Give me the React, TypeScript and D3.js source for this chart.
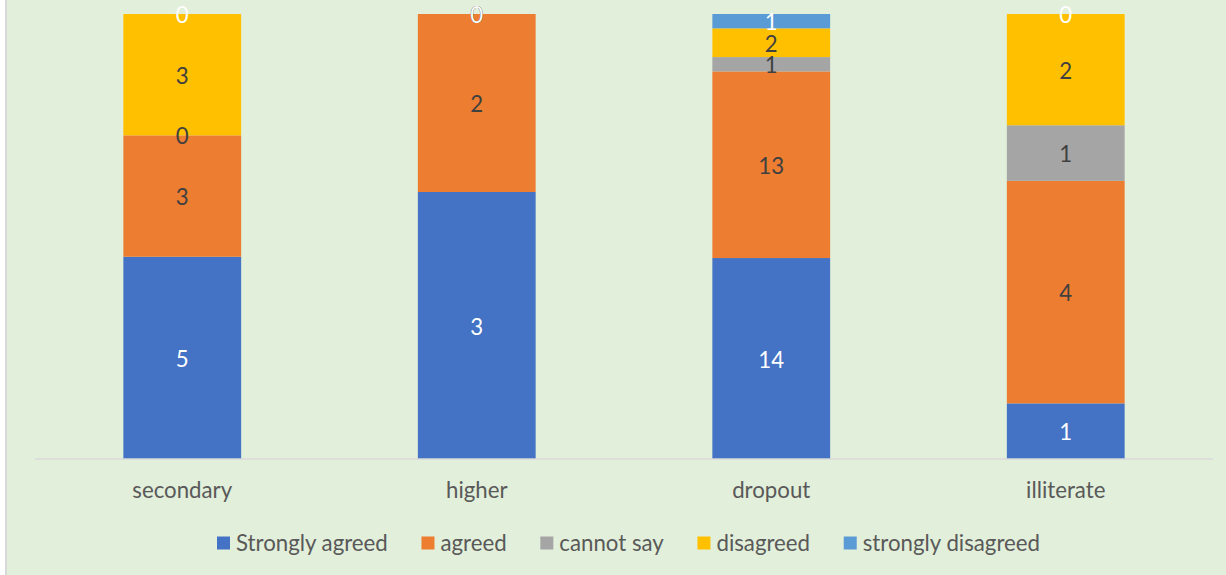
import React, { useEffect, useRef } from "react";
import * as d3 from "d3";

const categories = ["secondary", "higher", "dropout", "illiterate"];
const seriesNames = ["Strongly agreed", "agreed", "cannot say", "disagreed", "strongly disagreed"];
const stronglyAgreed = [5, 3, 14, 1];
const agreed = [3, 2, 13, 4];
const cannotSay = [0, 0, 1, 1];
const disagreed = [3, 0, 2, 2];
const stronglyDisagreed = [0, 0, 1, 0];
const seriesColors = ["#4472C4", "#ED7D31", "#A5A5A5", "#FFC000", "#5B9BD5"];
const labelColors = ["#FFFFFF", "#404040", "#404040", "#404040", "#FFFFFF"];

const W = 1226;
const H = 575;
const FONT = "Lato, 'Open Sans', sans-serif";

export default function App() {
  const ref = useRef<SVGSVGElement>(null);
  useEffect(() => {
    const svg = d3.select(ref.current);
    svg.selectAll("*").remove();
    const values = [stronglyAgreed, agreed, cannotSay, disagreed, stronglyDisagreed];
    const rows = categories.map((c, i) => {
      const o: any = { cat: c };
      seriesNames.forEach((s, k) => (o[s] = values[k][i]));
      return o;
    });
    const stack = d3.stack<any>().keys(seriesNames).offset(d3.stackOffsetExpand);
    const layers = stack(rows);

    // measure font size to match reference text widths
    const probe = svg.append("text").attr("font-family", FONT).attr("font-size", 100).text("strongly disagreed");
    const wProbe = (probe.node() as SVGTextElement).getComputedTextLength();
    probe.text("secondary");
    const wProbe2 = (probe.node() as SVGTextElement).getComputedTextLength();
    probe.remove();
    const fs = ((100 * 179) / wProbe + (100 * 99) / wProbe2) / 2;

    svg.append("rect").attr("x", 0).attr("y", 0).attr("width", W).attr("height", H).attr("fill", "#FFFFFF");
    svg.append("rect").attr("x", 6).attr("y", 0).attr("width", W - 6).attr("height", H).attr("fill", "#E2EFDA");
    svg.append("line").attr("x1", 6).attr("x2", 6).attr("y1", 0).attr("y2", H).attr("stroke", "#D9D9D9").attr("stroke-width", 2);

    const x = d3.scaleBand().domain(categories).range([35, 1213]).paddingInner(0.6).paddingOuter(0.3);
    const y = d3.scaleLinear().domain([0, 1]).range([459, 14]);

    const g = svg.append("g");
    layers.forEach((layer, k) => {
      g.selectAll(null)
        .data(layer)
        .enter()
        .append("rect")
        .attr("x", (d: any) => x(d.data.cat)!)
        .attr("width", x.bandwidth())
        .attr("y", (d) => y(d[1]))
        .attr("height", (d) => y(d[0]) - y(d[1]))
        .attr("fill", seriesColors[k]);
    });

    svg.append("line").attr("x1", 35).attr("x2", 1213).attr("y1", 459).attr("y2", 459).attr("stroke", "#D9D9D9").attr("stroke-width", 1.5);

    layers.forEach((layer, k) => {
      g.selectAll(null)
        .data(layer)
        .enter()
        .append("text")
        .attr("x", (d: any) => x(d.data.cat)! + x.bandwidth() / 2)
        .attr("y", (d) => (y(d[0]) + y(d[1])) / 2 + 1)
        .attr("dy", "0.36em")
        .attr("text-anchor", "middle")
        .attr("font-family", FONT)
        .attr("font-size", fs)
        .attr("fill", labelColors[k])
        .text((d: any) => d.data[seriesNames[k]]);
    });

    svg.selectAll(null)
      .data(categories)
      .enter()
      .append("text")
      .attr("x", (c) => x(c)! + x.bandwidth() / 2)
      .attr("y", 490)
      .attr("dy", "0.36em")
      .attr("text-anchor", "middle")
      .attr("font-family", FONT)
      .attr("font-size", fs)
      .attr("fill", "#595959")
      .text((c) => c);

    // legend
    const leg = svg.append("g");
    const sq = 13;
    const gapT = 6;
    const items: { g: any; w: number }[] = [];
    seriesNames.forEach((s, k) => {
      const it = leg.append("g");
      it.append("rect").attr("x", 0).attr("y", -sq / 2).attr("width", sq).attr("height", sq).attr("fill", seriesColors[k]);
      const t = it
        .append("text")
        .attr("x", sq + gapT)
        .attr("y", 0)
        .attr("dy", "0.36em")
        .attr("font-family", FONT)
        .attr("font-size", fs)
        .attr("fill", "#595959")
        .text(s);
      items.push({ g: it, w: sq + gapT + (t.node() as SVGTextElement).getComputedTextLength() });
    });
    const left = 217;
    const right = 1040;
    const sumW = d3.sum(items, (d) => d.w);
    const gapItem = (right - left - sumW) / (items.length - 1);
    let cx = left;
    items.forEach((it) => {
      it.g.attr("transform", `translate(${cx},0)`);
      cx += it.w + gapItem;
    });
    leg.attr("transform", `translate(0,543)`);
  }, []);
  return (
    <svg ref={ref} width={W} height={H} style={{ position: "absolute", left: 0, top: 0, display: "block" }} />
  );
}
